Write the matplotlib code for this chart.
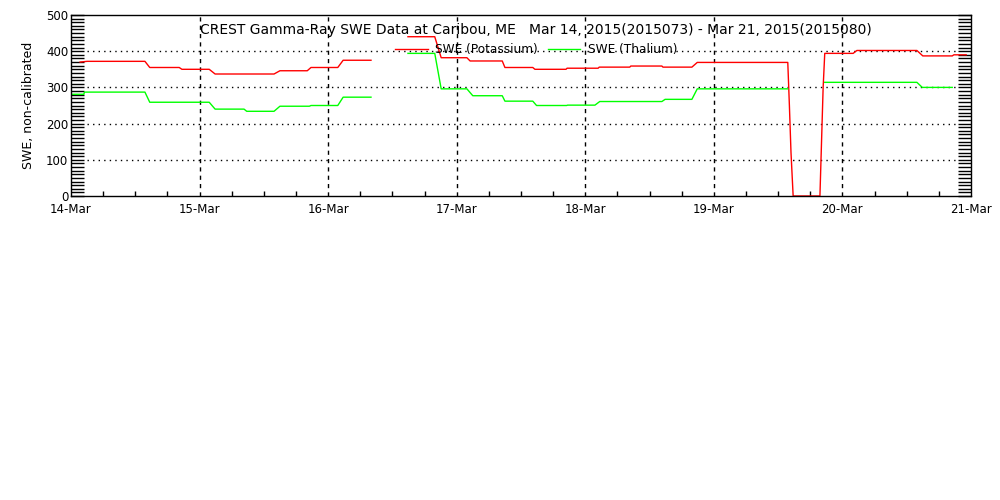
import numpy as np
import matplotlib
matplotlib.use('Agg')
import matplotlib.pyplot as plt

# hours since 14-Mar 00:00, NaN marks a data gap
pot_hours = [1.7, 3, 13.8, 14.7, 20.2, 20.7, 25.8, 26.9, 37.9, 39.0, 44.1, 44.8, 49.8, 50.8, 56.0,
             np.nan,
             62.9, 67.9, 69.1, 73.9, 74.5, 80.5, 81.0, 86.2, 86.6, 92.4, 92.6, 98.4, 98.6, 104.3,
             104.5, 110.3, 110.5, 115.9, 116.9, 133.8, 134.1, 134.4, 134.8, 139.8, 140.1, 140.4,
             140.7, 146.0, 146.7, 157.9, 159.0, 164.5, 164.8, 167.1]
pot_swe = [370, 372, 372, 355, 355, 350, 350, 337, 337, 346, 346, 355, 355, 375, 375,
           np.nan,
           440, 440, 382, 382, 373, 373, 355, 355, 350, 350, 353, 353, 356, 356,
           359, 359, 356, 356, 369, 369, 250, 120, 0, 0, 150, 300,
           394, 394, 402, 402, 387, 387, 390, 390]

thl_hours = [0, 2.4, 2.5, 13.8, 14.7, 25.8, 26.9, 32.3, 32.8, 37.9, 39.0, 44.5, 44.8, 49.8, 50.8, 56.0,
             np.nan,
             62.9, 67.9, 69.1, 73.9, 75.0, 80.5, 81.0, 86.2, 86.9, 92.5, 92.7, 97.8, 98.7, 110.3,
             110.9, 115.9, 116.9, 133.8,
             np.nan,
             140.7, 157.9, 158.9, 164.5]
thl_swe = [281, 281, 287, 287, 259, 259, 240, 240, 234, 234, 248, 248, 250, 250, 273, 273,
           np.nan,
           394, 394, 296, 296, 277, 277, 262, 262, 250, 250, 251, 251, 261, 261,
           267, 267, 296, 296,
           np.nan,
           314, 314, 300, 300]

day_labels = ['14-Mar', '15-Mar', '16-Mar', '17-Mar', '18-Mar', '19-Mar', '20-Mar', '21-Mar']
title = 'CREST Gamma-Ray SWE Data at Caribou, ME   Mar 14, 2015(2015073) - Mar 21, 2015(2015080)'

fig = plt.figure(figsize=(10, 5), dpi=100)
ax = fig.add_axes([0.071, 0.608, 0.900, 0.362])

day_ticks = np.arange(len(day_labels)) * 24
ax.plot(pot_hours, pot_swe, color='#ff0000', lw=1, label='SWE (Potassium)')
ax.plot(thl_hours, thl_swe, color='#00ff00', lw=1, label='SWE (Thalium)')

for h in day_ticks[1:-1]:
    ax.axvline(h, color='k', lw=1, ls=(0, (3, 3)), zorder=0)
for v in [100, 200, 300, 400]:
    ax.plot([3, 165.5], [v, v], color='k', lw=1, ls=(0, (1, 3)), zorder=0)

ax.set_xlim(0, 168)
ax.set_ylim(0, 500)
ax.set_xticks(day_ticks)
ax.set_xticklabels(day_labels)
ax.set_xticks(np.arange(0, 169, 6), minor=True)
ax.set_yticks(np.arange(0, 501, 100))
ax.set_yticks(np.arange(0, 501, 10), minor=True)
ax.tick_params(axis='y', which='both', direction='in', length=9.4, width=1, right=True, labelsize=8.5, pad=2)
ax.tick_params(axis='x', which='major', direction='in', length=0, labelsize=8.5, pad=5)
ax.tick_params(axis='x', which='minor', direction='in', length=3.5, width=1)
for s in ax.spines.values():
    s.set_linewidth(1)
ax.set_ylabel('SWE, non-calibrated', fontsize=9, labelpad=8)

ax.text(0.516, 0.917, title, transform=ax.transAxes, ha='center', va='center', fontsize=10)
ax.legend(loc='center', bbox_to_anchor=(0.517, 0.807), ncol=2, frameon=False, fontsize=8.7,
          handlelength=2.7, handletextpad=0.6, columnspacing=0.8, borderpad=0)

fig.savefig('out.png', dpi=100)
